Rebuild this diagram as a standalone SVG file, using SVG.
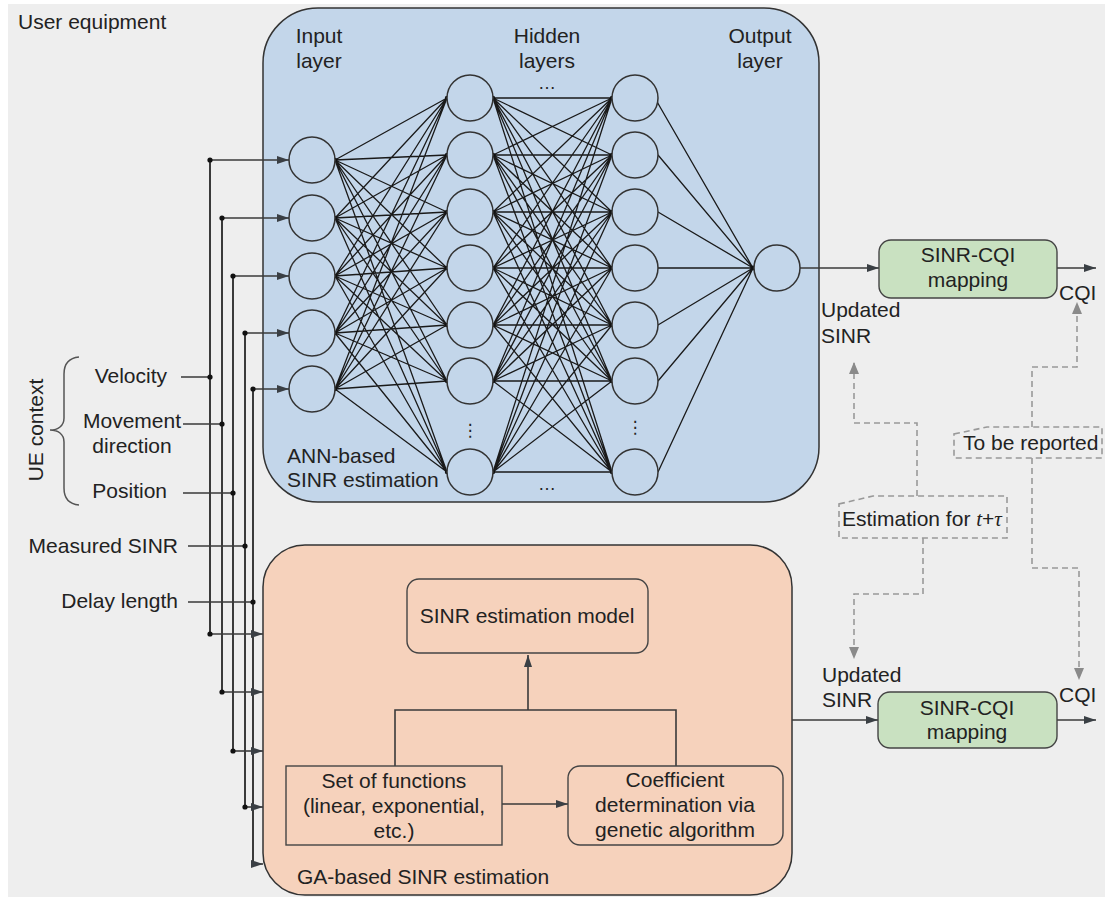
<svg xmlns="http://www.w3.org/2000/svg" width="1105" height="898" viewBox="0 0 1105 898">
<defs>
<style>
text{font-family:"Liberation Sans",Arial,sans-serif;font-size:21px;fill:#222}
.c{text-anchor:middle}
.ln{stroke:#3a3a3a;stroke-width:1.6;fill:none}
.vl{stroke:#3a3a3a;stroke-width:2;fill:none}
.nn{stroke:#1a1a1a;stroke-width:1.3;fill:none}
.node{fill:#c3d6ea;stroke:#333;stroke-width:1.5}
.dot{fill:#111}
.dash{stroke:#999;stroke-width:1.6;stroke-dasharray:6 4;fill:none}
.box{stroke:#444;stroke-width:1.4}
</style>
<marker id="ah" viewBox="0 0 12 8" refX="12" refY="4" markerWidth="12" markerHeight="8" markerUnits="userSpaceOnUse" orient="auto">
<path d="M0,0L12,4L0,8z" fill="#3a3f44"/>
</marker>
<marker id="ag" viewBox="0 0 12 10" refX="12" refY="5" markerWidth="12" markerHeight="10" markerUnits="userSpaceOnUse" orient="auto">
<path d="M0,0L12,5L0,10z" fill="#8a8a8a"/>
</marker>
</defs>
<rect x="8" y="4" width="1097" height="893" fill="#eeeeee"/>
<text x="18" y="29">User equipment</text>

<g id="ann-box">
<rect x="263" y="8" width="556" height="494" rx="55" ry="55" fill="#c3d6ea" stroke="#333" stroke-width="1.5"/>
<text x="319" y="43" class="c">Input</text>
<text x="319" y="68" class="c">layer</text>
<text x="547" y="43" class="c">Hidden</text>
<text x="547" y="68" class="c">layers</text>
<text x="760" y="43" class="c">Output</text>
<text x="760" y="68" class="c">layer</text>
<text x="287" y="463">ANN-based</text>
<text x="287" y="487">SINR estimation</text>
</g>

<g id="ga-box">
<rect x="263" y="545" width="529" height="350" rx="42" ry="42" fill="#f6d2bc" stroke="#333" stroke-width="1.5"/>
<text x="297" y="884">GA-based SINR estimation</text>
</g>

<g id="connectors">
<path class="ln" d="M181 377H210M183 424H222M183 493H233M188 546H245M188 602H253"/>
<path class="vl" d="M210 160V634M222 218V692M233 276V751M245 333V807M253 389V864"/>
<path class="ln" marker-end="url(#ah)" d="M210 160H289"/>
<path class="ln" marker-end="url(#ah)" d="M222 218H289"/>
<path class="ln" marker-end="url(#ah)" d="M233 276H289"/>
<path class="ln" marker-end="url(#ah)" d="M245 333H289"/>
<path class="ln" marker-end="url(#ah)" d="M253 389H289"/>
<path class="ln" marker-end="url(#ah)" d="M210 634H263"/>
<path class="ln" marker-end="url(#ah)" d="M222 692H263"/>
<path class="ln" marker-end="url(#ah)" d="M233 751H263"/>
<path class="ln" marker-end="url(#ah)" d="M245 807H263"/>
<path class="ln" marker-end="url(#ah)" d="M253 864H263"/>
<g class="dot">
<circle cx="210" cy="160" r="2.6"/><circle cx="222" cy="218" r="2.6"/><circle cx="233" cy="276" r="2.6"/><circle cx="245" cy="333" r="2.6"/><circle cx="253" cy="389" r="2.6"/>
<circle cx="210" cy="377" r="2.6"/><circle cx="222" cy="424" r="2.6"/><circle cx="233" cy="493" r="2.6"/><circle cx="245" cy="546" r="2.6"/><circle cx="253" cy="602" r="2.6"/>
<circle cx="210" cy="634" r="2.6"/><circle cx="222" cy="692" r="2.6"/><circle cx="233" cy="751" r="2.6"/><circle cx="245" cy="807" r="2.6"/>
</g>
<path class="nn" d="M335 160L447 98M335 160L447 155M335 160L447 212M335 160L447 268M335 160L447 325M335 160L447 381M335 160L447 472M335 218L447 98M335 218L447 155M335 218L447 212M335 218L447 268M335 218L447 325M335 218L447 381M335 218L447 472M335 276L447 98M335 276L447 155M335 276L447 212M335 276L447 268M335 276L447 325M335 276L447 381M335 276L447 472M335 333L447 98M335 333L447 155M335 333L447 212M335 333L447 268M335 333L447 325M335 333L447 381M335 333L447 472M335 389L447 98M335 389L447 155M335 389L447 212M335 389L447 268M335 389L447 325M335 389L447 381M335 389L447 472"/>
<path class="nn" d="M493 98L612 98M493 98L612 155M493 98L612 212M493 98L612 268M493 98L612 325M493 98L612 381M493 98L612 472M493 155L612 98M493 155L612 155M493 155L612 212M493 155L612 268M493 155L612 325M493 155L612 381M493 155L612 472M493 212L612 98M493 212L612 155M493 212L612 212M493 212L612 268M493 212L612 325M493 212L612 381M493 212L612 472M493 268L612 98M493 268L612 155M493 268L612 212M493 268L612 268M493 268L612 325M493 268L612 381M493 268L612 472M493 325L612 98M493 325L612 155M493 325L612 212M493 325L612 268M493 325L612 325M493 325L612 381M493 325L612 472M493 381L612 98M493 381L612 155M493 381L612 212M493 381L612 268M493 381L612 325M493 381L612 381M493 381L612 472M493 472L612 98M493 472L612 155M493 472L612 212M493 472L612 268M493 472L612 325M493 472L612 381M493 472L612 472"/>
<path class="nn" d="M656 100L753 268M658 155L753 268M658 212L753 268M658 268L753 268M658 325L753 268M658 381L753 268M658 472L753 268"/>
<g class="dot">
<circle cx="335" cy="160" r="2.2"/><circle cx="335" cy="218" r="2.2"/><circle cx="335" cy="276" r="2.2"/><circle cx="335" cy="333" r="2.2"/><circle cx="335" cy="389" r="2.2"/>
<circle cx="447" cy="98" r="2.2"/><circle cx="447" cy="155" r="2.2"/><circle cx="447" cy="212" r="2.2"/><circle cx="447" cy="268" r="2.2"/><circle cx="447" cy="325" r="2.2"/><circle cx="447" cy="381" r="2.2"/><circle cx="447" cy="472" r="2.2"/>
<circle cx="493" cy="98" r="2.2"/><circle cx="493" cy="155" r="2.2"/><circle cx="493" cy="212" r="2.2"/><circle cx="493" cy="268" r="2.2"/><circle cx="493" cy="325" r="2.2"/><circle cx="493" cy="381" r="2.2"/><circle cx="493" cy="472" r="2.2"/>
<circle cx="612" cy="98" r="2.2"/><circle cx="612" cy="155" r="2.2"/><circle cx="612" cy="212" r="2.2"/><circle cx="612" cy="268" r="2.2"/><circle cx="612" cy="325" r="2.2"/><circle cx="612" cy="381" r="2.2"/><circle cx="612" cy="472" r="2.2"/>
<circle cx="753" cy="268" r="2.4"/>
</g>
<path class="ln" marker-end="url(#ah)" d="M800 268H879"/>
<path class="ln" marker-end="url(#ah)" d="M1057 268H1096"/>
<path class="ln" marker-end="url(#ah)" d="M792 720H878"/>
<path class="ln" marker-end="url(#ah)" d="M1057 720H1096"/>
<path class="ln" d="M395 766V710H676V766"/>
<path class="ln" marker-end="url(#ah)" d="M528 710V655"/>
<path class="ln" marker-end="url(#ah)" d="M502 804H568"/>
<path class="dash" marker-end="url(#ag)" d="M917 496V423H854V362"/>
<path class="dash" marker-end="url(#ag)" d="M923 538V594H854V659"/>
<path class="dash" marker-end="url(#ag)" d="M1032 427V367H1077V302"/>
<path class="dash" marker-end="url(#ag)" d="M1032 458V568H1079V680"/>
</g>

<g id="input-layer">
<circle class="node" cx="312" cy="160" r="23"/>
<circle class="node" cx="312" cy="218" r="23"/>
<circle class="node" cx="312" cy="276" r="23"/>
<circle class="node" cx="312" cy="333" r="23"/>
<circle class="node" cx="312" cy="389" r="23"/>
</g>
<g id="hidden-layer-1">
<circle class="node" cx="470" cy="98" r="23"/>
<circle class="node" cx="470" cy="155" r="23"/>
<circle class="node" cx="470" cy="212" r="23"/>
<circle class="node" cx="470" cy="268" r="23"/>
<circle class="node" cx="470" cy="325" r="23"/>
<circle class="node" cx="470" cy="381" r="23"/>
<circle class="node" cx="470" cy="472" r="23"/>
<text x="470" y="436" class="c" style="font-family:'DejaVu Sans',sans-serif;font-size:17px">⋮</text>
</g>
<g id="hidden-layer-2">
<circle class="node" cx="635" cy="98" r="23"/>
<circle class="node" cx="635" cy="155" r="23"/>
<circle class="node" cx="635" cy="212" r="23"/>
<circle class="node" cx="635" cy="268" r="23"/>
<circle class="node" cx="635" cy="325" r="23"/>
<circle class="node" cx="635" cy="381" r="23"/>
<circle class="node" cx="635" cy="472" r="23"/>
<text x="635" y="433" class="c" style="font-family:'DejaVu Sans',sans-serif;font-size:17px">⋮</text>
</g>
<g id="hidden-dots">
<text x="547" y="89" class="c" style="font-size:18px">…</text>
<text x="547" y="490" class="c" style="font-size:18px">…</text>
</g>
<g id="output-layer">
<circle class="node" cx="777" cy="268" r="23"/>
</g>

<g id="ue-context">
<path d="M79 357C68 358 64 364 64 374V418C64 426 58 430 50 430C58 430 64 434 64 442V488C64 498 68 504 79 505" fill="none" stroke="#555" stroke-width="1.5"/>
<text transform="translate(43 430) rotate(-90)" class="c">UE context</text>
</g>
<g id="inputs">
<text x="167" y="383" style="text-anchor:end">Velocity</text>
<text x="132" y="428" class="c">Movement</text>
<text x="132" y="453" class="c">direction</text>
<text x="167" y="498" style="text-anchor:end">Position</text>
<text x="178" y="553" style="text-anchor:end">Measured SINR</text>
<text x="178" y="608" style="text-anchor:end">Delay length</text>
</g>

<g id="sinr-model">
<rect class="box" x="407" y="579" width="241" height="74" rx="12" fill="#f6d2bc"/>
<text x="527" y="623" class="c">SINR estimation model</text>
</g>
<g id="set-of-functions">
<rect class="box" x="286" y="766" width="216" height="79" fill="#f6d2bc"/>
<text x="394" y="788" class="c">Set of functions</text>
<text x="394" y="813" class="c">(linear, exponential,</text>
<text x="394" y="838" class="c">etc.)</text>
</g>
<g id="coefficient">
<rect class="box" x="568" y="766" width="215" height="79" rx="12" fill="#f6d2bc"/>
<text x="675" y="787" class="c">Coefficient</text>
<text x="675" y="812" class="c">determination via</text>
<text x="675" y="837" class="c">genetic algorithm</text>
</g>

<g id="mapping-top">
<rect class="box" x="879" y="240" width="178" height="58" rx="12" fill="#c9e1c1"/>
<text x="968" y="262" class="c">SINR-CQI</text>
<text x="968" y="287" class="c">mapping</text>
</g>
<g id="mapping-bottom">
<rect class="box" x="878" y="692" width="179" height="56" rx="12" fill="#c9e1c1"/>
<text x="967" y="715" class="c">SINR-CQI</text>
<text x="967" y="739" class="c">mapping</text>
</g>
<g id="labels-out">
<text x="821" y="317">Updated</text>
<text x="821" y="343">SINR</text>
<text x="1059" y="300">CQI</text>
<text x="822" y="682">Updated</text>
<text x="822" y="707">SINR</text>
<text x="1059" y="702">CQI</text>
</g>
<g id="estimation-note">
<path class="dash" d="M839 504L873 496H1007V538H839Z" fill="#eeeeee"/>
<text x="842" y="526">Estimation for <tspan style="font-family:'Liberation Serif',serif;font-style:italic">t</tspan>+<tspan style="font-family:'Liberation Serif',serif;font-style:italic">τ</tspan></text>
</g>
<g id="report-note">
<path class="dash" d="M954 434L987 427H1102V458H954Z" fill="#eeeeee"/>
<text x="963" y="450">To be reported</text>
</g>
</svg>
